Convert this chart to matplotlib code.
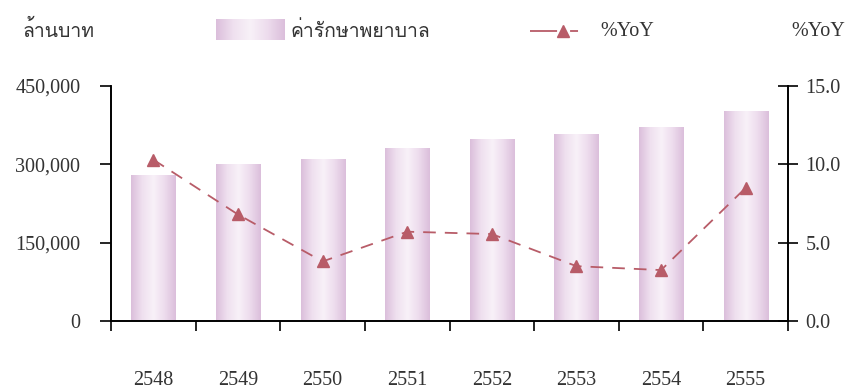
import matplotlib
matplotlib.use("Agg")
import matplotlib.pyplot as plt
import matplotlib.colors as mcolors
from matplotlib import font_manager, ft2font
from matplotlib.lines import Line2D
import numpy as np

# --- data ---
years = ['2548', '2549', '2550', '2551', '2552', '2553', '2554', '2555']
expense = [280000, 301000, 310000, 331000, 348000, 358000, 371000, 402000]  # ล้านบาท
yoy = [10.3, 6.8, 3.8, 5.7, 5.55, 3.5, 3.25, 8.5]  # %

# --- find a font that covers Thai ---
def find_thai_family():
    for f in font_manager.fontManager.ttflist:
        try:
            if 0x0E01 in ft2font.FT2Font(f.fname).get_charmap():
                return f.name
        except Exception:
            pass
    return 'DejaVu Sans'

thai_family = find_thai_family()
serif = ['Liberation Serif', 'DejaVu Serif']
plt.rcParams['font.family'] = serif

bar_cmap = mcolors.LinearSegmentedColormap.from_list(
    'bar', ['#dbbedb', '#efe0ef', '#f8f1f8', '#eddced', '#dbbedb'])
line_col = '#b85c68'
text_col = '#333333'

fig = plt.figure(figsize=(8.5, 3.92), dpi=100)
ax = fig.add_axes([111 / 850, 1 - 321 / 392, 677 / 850, 235 / 392])
ax2 = ax.twinx()

x = np.arange(len(years))
bars = ax.bar(x, expense, width=0.52, color='none', edgecolor='none')
grad = np.linspace(0, 1, 256).reshape(1, -1)
for b in bars:
    x0, w, h = b.get_x(), b.get_width(), b.get_height()
    im = ax.imshow(grad, cmap=bar_cmap, aspect='auto',
                   extent=[x0, x0 + w, 0, h], zorder=1)
    im.set_clip_path(b)

ax.set_xlim(-0.5, len(years) - 0.5)
ax.set_ylim(0, 450000)
ax.set_yticks([0, 150000, 300000, 450000])
ax.set_yticklabels(['0', '150,000', '300,000', '450,000'])
ax.set_xticks(np.arange(-0.5, len(years)), [])
ax.set_xticks(x, years, minor=True)
ax.tick_params(axis='x', which='major', direction='out', length=7.5, width=1.2)
ax.tick_params(axis='x', which='minor', length=0, pad=36)
ax.tick_params(axis='y', direction='out', length=8, width=1.2, pad=14)
ax.tick_params(which='both', labelsize=14.5, labelcolor=text_col)

ax2.plot(x, yoy, color=line_col, lw=1.3, linestyle=(0, (7, 5)),
         marker='^', markersize=9, zorder=3)
ax2.set_ylim(0, 15)
ax2.set_yticks([0, 5, 10, 15])
ax2.set_yticklabels(['0.0', '5.0', '10.0', '15.0'])
ax2.tick_params(axis='y', direction='inout', length=15, width=1.2, pad=5,
                labelsize=14.5, labelcolor=text_col)

for a in (ax, ax2):
    a.spines['top'].set_visible(False)
    for s in ('left', 'right', 'bottom'):
        a.spines[s].set_linewidth(1.2)
ax.set_xlim(-0.5, len(years) - 0.5)

# --- header: unit labels and legend ---
fig.text(22 / 850, 1 - 30 / 392, 'ล้านบาท', family=[thai_family, 'DejaVu Sans'],
         fontsize=14, color=text_col, va='center', ha='left')
fig.text(845 / 850, 1 - 32 / 392, '%YoY', fontsize=14.5, color=text_col,
         va='center', ha='right')

sw = fig.add_axes([216 / 850, 1 - 40 / 392, 68 / 850, 21 / 392])
sw.imshow(grad, cmap=bar_cmap, aspect='auto')
sw.axis('off')
fig.text(291 / 850, 1 - 31 / 392, 'ค่ารักษาพยาบาล', family=[thai_family, 'DejaVu Sans'],
         fontsize=14, color=text_col, va='center', ha='left')

ly = 1 - 31 / 392
fig.lines.append(Line2D([530 / 850, 579 / 850], [ly, ly], transform=fig.transFigure,
                        color=line_col, lw=1.3, linestyle=(0, (15, 7.2, 4.4, 20))))
fig.lines.append(Line2D([563 / 850], [ly], transform=fig.transFigure, color=line_col,
                        marker='^', markersize=9, linestyle='none'))
fig.text(600 / 850, ly, '%YoY', fontsize=14.5, color=text_col, va='center', ha='left')

fig.savefig('out.png', dpi=100)
